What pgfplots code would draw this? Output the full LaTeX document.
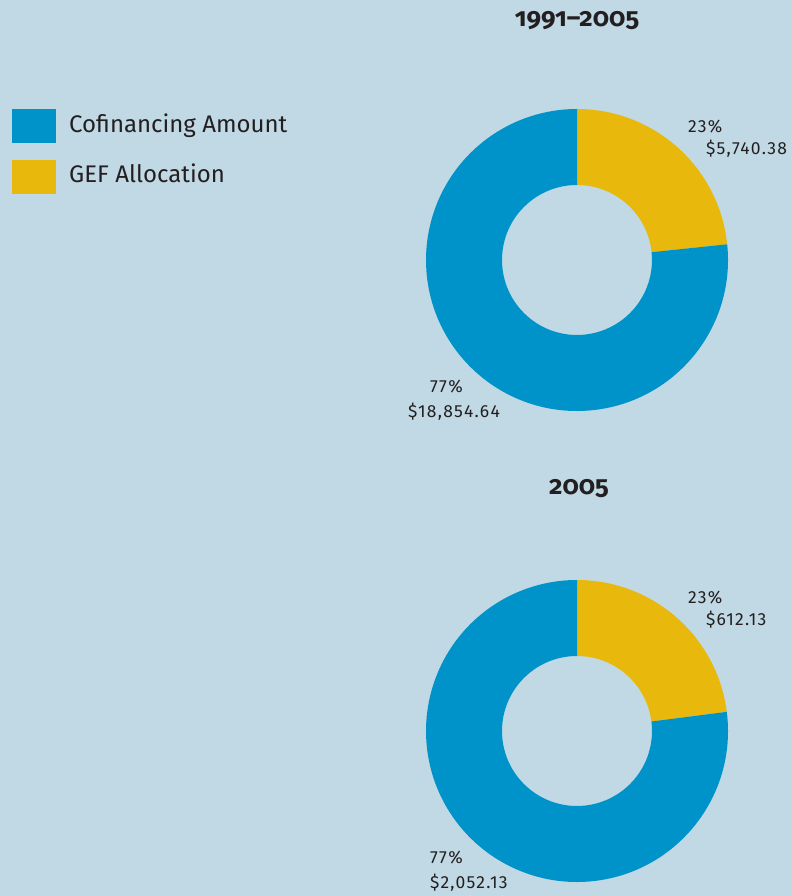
\documentclass[border=0pt]{standalone}
\usepackage{pgfplots}
\pgfplotsset{compat=1.18}
\usepackage{pgfplotstable}
\usepackage{fontspec}
\setmainfont{Fira Sans}
\newfontfamily\titlefont[Numbers=OldStyle,Ligatures=TeX]{Fira Sans}
\newfontfamily\labfont[LetterSpace=7]{Fira Sans}
\usetikzlibrary{calc}
\definecolor{bg}{RGB}{192,217,229}
\definecolor{cofin}{RGB}{0,147,201}
\definecolor{gef}{RGB}{232,185,12}
\definecolor{txt}{RGB}{35,31,32}

\pgfplotstableread{
series value
Cofinancing 18854.64
GEF 5740.38
}\tableA
\pgfplotstableread{
series value
Cofinancing 2052.13
GEF 612.13
}\tableB

% #1 cx, #2 cy, #3 start angle, #4 end angle, #5 colour
\newcommand{\donutseg}[5]{%
  \fill[#5] ($(axis cs:#1,#2)+(#3:151pt)$) arc[start angle=#3,end angle=#4,radius=151pt]
     -- ($(axis cs:#1,#2)+(#4:75pt)$) arc[start angle=#4,end angle=#3,radius=75pt] -- cycle;}

\begin{document}%
\begin{tikzpicture}
\pgfplotstablegetelem{0}{value}\of\tableA \let\coA\pgfplotsretval
\pgfplotstablegetelem{1}{value}\of\tableA \let\gefA\pgfplotsretval
\pgfplotstablegetelem{0}{value}\of\tableB \let\coB\pgfplotsretval
\pgfplotstablegetelem{1}{value}\of\tableB \let\gefB\pgfplotsretval
\edef\endA{\fpeval{90-360*\gefA/(\coA+\gefA)}}
\edef\endB{\fpeval{90-360*\gefB/(\coB+\gefB)}}
\begin{axis}[width=791pt,height=895pt,scale only axis,
  xmin=0,xmax=791,ymin=0,ymax=895,hide axis,clip=false]
\fill[bg] (axis cs:0,0) rectangle (axis cs:791,895);
% donut 1
\donutseg{577}{635}{90}{\endA}{gef}
\donutseg{577}{635}{\endA}{-270}{cofin}
% donut 2
\donutseg{577}{164}{90}{\endB}{gef}
\donutseg{577}{164}{\endB}{-270}{cofin}
% titles
\node[anchor=base,text=txt,font=\titlefont\bfseries\fontsize{26}{30}\selectfont] at (axis cs:577,868) {1991–2005};
\node[anchor=base,text=txt,font=\titlefont\bfseries\fontsize{26}{30}\selectfont] at (axis cs:579,400) {2005};
% labels
\tikzset{lab/.style={anchor=base west,inner sep=0pt,text=txt,font=\labfont\fontsize{17.5}{21}\selectfont}}
\node[lab] at (axis cs:688,762) {23\%};
\node[lab] at (axis cs:706,740) {\$5,740.38};
\node[lab] at (axis cs:430,502) {77\%};
\node[lab] at (axis cs:408,477) {\$18,854.64};
\node[lab] at (axis cs:688,291) {23\%};
\node[lab] at (axis cs:706,269) {\$612.13};
\node[lab] at (axis cs:430,31) {77\%};
\node[lab] at (axis cs:430,6) {\$2,052.13};
% legend
\fill[cofin] (axis cs:12,752) rectangle (axis cs:56,786);
\fill[gef] (axis cs:12,701) rectangle (axis cs:56,735);
\tikzset{leg/.style={anchor=base west,inner sep=0pt,text=txt,font=\fontsize{24}{28}\selectfont}}
\node[leg] at (axis cs:69,762) {Cofinancing Amount};
\node[leg] at (axis cs:69,712) {GEF Allocation};
\end{axis}
\end{tikzpicture}%
\end{document}
